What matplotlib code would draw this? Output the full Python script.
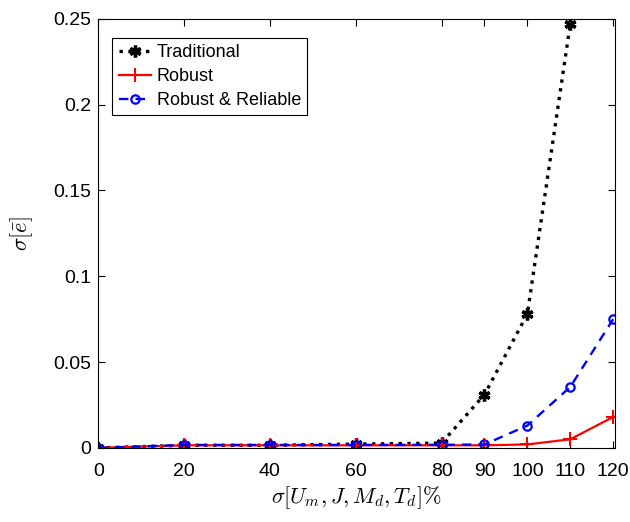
import matplotlib
matplotlib.use('Agg')
import matplotlib.pyplot as plt

plt.rcParams['font.family'] = ['Liberation Sans', 'DejaVu Sans']
plt.rcParams['mathtext.fontset'] = 'cm'

sigma_pct = [0, 20, 40, 60, 80, 90, 100, 110, 120]
xtick_vals = [0, 20, 40, 60, 80, 90, 100, 110, 120]

traditional_x = [0, 20, 40, 60, 80, 90, 100, 110]
traditional = [0.0, 0.0015, 0.0015, 0.0022, 0.0028, 0.031, 0.078, 0.247]
robust = [0.0, 0.0015, 0.0015, 0.0015, 0.0015, 0.0015, 0.002, 0.005, 0.018]
robust_reliable = [0.0, 0.0017, 0.0017, 0.0017, 0.0018, 0.002, 0.013, 0.0355, 0.075]

fig = plt.figure(figsize=(6.3, 5.22), dpi=100)
ax = fig.add_axes([0.156, 0.142, 0.82, 0.822])

# asterisk marker, drawn thick so it reads as a blob
ax.plot(traditional_x, traditional, color='k', linestyle=':', linewidth=2.4,
        marker=(6, 2, 0), markersize=8.5, markeredgewidth=2.4, label='Traditional')
ax.plot(sigma_pct, robust, color='r', linestyle='-', linewidth=1.6,
        marker='+', markersize=10, markeredgewidth=1.5, label='Robust')
ax.plot(sigma_pct, robust_reliable, color='b', linestyle='--', linewidth=1.7,
        dashes=(4, 3), marker='o', markersize=6, markerfacecolor='none',
        markeredgewidth=1.6, label='Robust & Reliable')

ax.set_xlim(0, 120.4)
ax.set_ylim(0, 0.25)
ax.set_xticks(xtick_vals)
ax.set_yticks([0, 0.05, 0.1, 0.15, 0.2, 0.25])
ax.set_yticklabels(['0', '0.05', '0.1', '0.15', '0.2', '0.25'])
ax.tick_params(direction='in', top=True, right=True, labelsize=14, length=5, width=0.8)
ax.tick_params(axis='x', pad=11)
ax.tick_params(axis='y', pad=5)
for s in ax.spines.values():
    s.set_linewidth(0.8)

ax.set_xlabel(r'$\sigma[U_m, J, M_d, T_d]\%$', fontsize=16, labelpad=3)
ax.set_ylabel(r'$\sigma[\bar{e}]$', fontsize=16, labelpad=13)

leg = ax.legend(loc='upper left', bbox_to_anchor=(0.010, 0.976), fontsize=13,
                fancybox=False, edgecolor='k', framealpha=1, handlelength=1.8,
                handletextpad=0.3, borderpad=0.35, labelspacing=0.38)
leg.get_frame().set_linewidth(0.8)

fig.savefig('out.png', dpi=100)
